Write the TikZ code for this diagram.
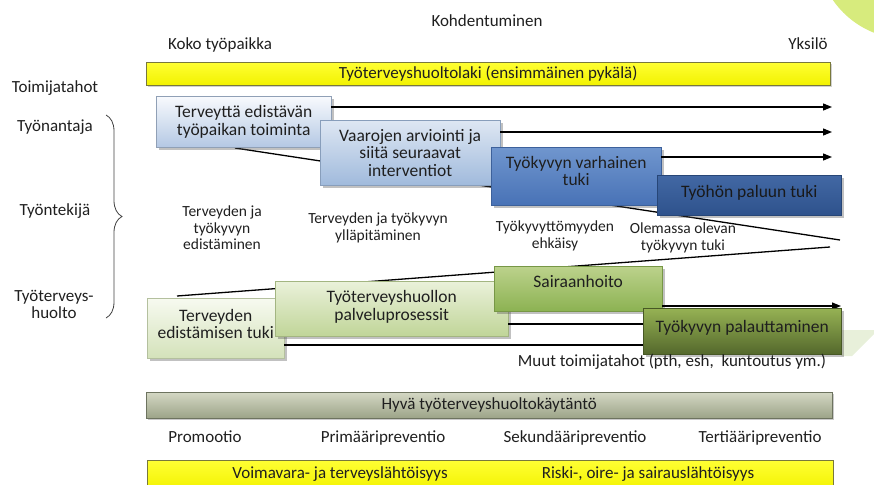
\documentclass[tikz,border=0pt]{standalone}
\usepackage{fontspec}
\setmainfont{Carlito}
\usetikzlibrary{shadows,decorations.pathreplacing,arrows.meta}
\definecolor{lime}{RGB}{215,235,125}
\definecolor{ylw}{RGB}{255,255,0}
\definecolor{ylwd}{RGB}{120,120,60}
\definecolor{bOneT}{RGB}{248,250,253}
\definecolor{bOneB}{RGB}{180,200,228}
\definecolor{bTwoT}{RGB}{222,231,243}
\definecolor{bTwoB}{RGB}{160,186,220}
\definecolor{bThrT}{RGB}{112,150,206}
\definecolor{bThrB}{RGB}{72,114,182}
\definecolor{bFouT}{RGB}{66,104,164}
\definecolor{bFouB}{RGB}{46,82,140}
\definecolor{gOneT}{RGB}{247,250,240}
\definecolor{gOneB}{RGB}{212,226,186}
\definecolor{gTwoT}{RGB}{234,241,218}
\definecolor{gTwoB}{RGB}{192,213,152}
\definecolor{gThrT}{RGB}{188,210,140}
\definecolor{gThrB}{RGB}{140,178,82}
\definecolor{gFouT}{RGB}{150,178,84}
\definecolor{gFouB}{RGB}{84,104,44}
\definecolor{hvT}{RGB}{212,216,196}
\definecolor{hvB}{RGB}{156,164,136}
\definecolor{paleg}{RGB}{232,240,218}
\begin{document}
\begin{tikzpicture}[x=1pt,y=-1pt,
  txt/.style={font=\fontsize{17}{17}\selectfont, text=black!88, align=center, inner sep=0pt},
  mid/.style={font=\fontsize{15.5}{16.5}\selectfont, text=black!88, align=center, inner sep=0pt},
  box/.style={anchor=north west, align=center, inner sep=2pt,
    font=\fontsize{17.5}{17.5}\selectfont, text=black!88,
    drop shadow={shadow xshift=2.5pt, shadow yshift=-2.5pt, opacity=0.35, fill=black!70}},
  bar/.style={anchor=north west, inner sep=0pt, font=\fontsize{17}{17}\selectfont, text=black!88},
  arr/.style={line width=1.2pt, -{Triangle[length=9pt,width=7pt]}},
  ln/.style={line width=1.3pt}]
\useasboundingbox (0,0) rectangle (874,484);
\begin{scope}
\clip (0,0) rectangle (874,484);
\fill[lime] (907,-51) circle (90);
\fill[paleg] (841,330) -- (874,330) -- (874,334) -- (852,356) -- (841,356) -- cycle;

% headings
\node[txt, anchor=base] (kohd) at (487,27) {Kohdentuminen};
\node[txt, anchor=base] (koko) at (220,50) {Koko työpaikka};
\node[txt, anchor=base] (yks) at (808,50) {Yksilö};
\node[bar, top color=ylw!80!white, bottom color=ylw!95!black, draw=ylwd, minimum width=684, minimum height=23,
  drop shadow={shadow xshift=2pt, shadow yshift=-2pt, opacity=0.3, fill=black!60}] (law) at (146,62)
  {Työterveyshuoltolaki (ensimmäinen pykälä)};

% left labels
\node[txt] (toim) at (55,88) {Toimijatahot};
\node[txt] (tyonant) at (55,127) {Työnantaja};
\node[txt] (tyontek) at (55,211) {Työntekijä};
\node[txt] (tth) at (54,304) {Työterveys-\\huolto};
\coordinate (brT) at (106,115);
\coordinate (brB) at (106,318);
\draw[line width=0.8pt, black!75, decorate, decoration={brace, amplitude=16pt, aspect=0.5}] (brT) -- (brB);

% slanted lines
\coordinate (s1) at (235,148);
\coordinate (s2) at (840,240);
\coordinate (s3) at (177,296);
\coordinate (s4) at (830,247);
\draw[ln] (s1) -- (s2);
\draw[ln] (s3) -- (s4);

% arrow ends
\coordinate (e1) at (832,107);
\coordinate (e2) at (832,132);
\coordinate (e3) at (832,157);
\coordinate (e4) at (841,306);

% blue boxes
\node[box, top color=bOneT, bottom color=bOneB, draw=bOneB!80!black, minimum width=175, minimum height=51] (b1) at (156,96)
  {Terveyttä edistävän\\työpaikan toiminta};
\draw[arr] (b1.east |- e1) -- (e1);
\node[box, top color=bTwoT, bottom color=bTwoB, draw=bTwoB!85!black, minimum width=180, minimum height=65] (b2) at (320,120)
  {Vaarojen arviointi ja\\siitä seuraavat\\interventiot};
\draw[arr] (b2.east |- e2) -- (e2);
\node[box, top color=bThrT, bottom color=bThrB, draw=bThrB!85!black, minimum width=170, minimum height=58, text depth=11pt] (b3) at (491,147)
  {Työkyvyn varhainen\\tuki};
\draw[arr] (b3.east |- e3) -- (e3);
\node[box, top color=bFouT, bottom color=bFouB, draw=bFouB!85!black, minimum width=184, minimum height=40, text=black!90, text depth=8pt] (b4) at (657,175)
  {Työhön paluun tuki};

% middle labels
\node[mid] (l1) at (222,228) {Terveyden ja\\työkyvyn\\edistäminen};
\node[mid] (l2) at (378,228) {Terveyden ja työkyvyn\\ylläpitäminen};
\node[mid] (l3) at (555,236) {Työkyvyttömyyden\\ehkäisy};
\node[mid] (l4) at (683,238) {Olemassa olevan\\työkyvyn tuki};

% green boxes
\node[box, top color=gOneT, bottom color=gOneB, draw=gOneB!85!black, minimum width=137, minimum height=60, text depth=9pt] (g1) at (147,298)
  {Terveyden\\edistämisen tuki};
\node[box, top color=gTwoT, bottom color=gTwoB, draw=gTwoB!85!black, minimum width=233, minimum height=55, text depth=7pt] (g2) at (275,281)
  {Työterveyshuollon\\palveluprosessit};
\node[box, top color=gThrT, bottom color=gThrB, draw=gThrB!85!black, minimum width=168, minimum height=45, text depth=15pt] (g3) at (494,266)
  {Sairaanhoito};
\coordinate (e5) at (643,324);
\coordinate (e6) at (643,345);
\draw[ln] (g2.east |- e5) -- (e5);
\draw[ln] (g1.east |- e6) -- (e6);
\draw[arr] (g3.east |- e4) -- (e4);
\node[box, top color=gFouT, bottom color=gFouB, draw=gFouB!85!black, minimum width=198, minimum height=46, text depth=9pt] (g4) at (643,308)
  {Työkyvyn palauttaminen};
\node[txt] (muut) at (672,362) {Muut toimijatahot (pth, esh,\ \ kuntoutus ym.)};

% bottom bars
\node[bar, top color=hvT, bottom color=hvB, draw=hvB!70!black, minimum width=686, minimum height=26,
  drop shadow={shadow xshift=2pt, shadow yshift=-2pt, opacity=0.35, fill=black!60}] (hyva) at (146,392)
  {Hyvä työterveyshuoltokäytäntö};
\node[txt, anchor=base] (p1) at (205,442) {Promootio};
\node[txt, anchor=base] (p2) at (383,442) {Primääripreventio};
\node[txt, anchor=base] (p3) at (575,442) {Sekundääripreventio};
\node[txt, anchor=base] (p4) at (760,442) {Tertiääripreventio};
\node[bar, top color=ylw!80!white, bottom color=ylw!95!black, draw=ylwd, minimum width=686, minimum height=30] (bot) at (147,460) {};
\node[txt, anchor=base] (v1) at (340,478) {Voimavara- ja terveyslähtöisyys};
\node[txt, anchor=base] (v2) at (648,478) {Riski-, oire- ja sairauslähtöisyys};
\end{scope}
\end{tikzpicture}
\end{document}
